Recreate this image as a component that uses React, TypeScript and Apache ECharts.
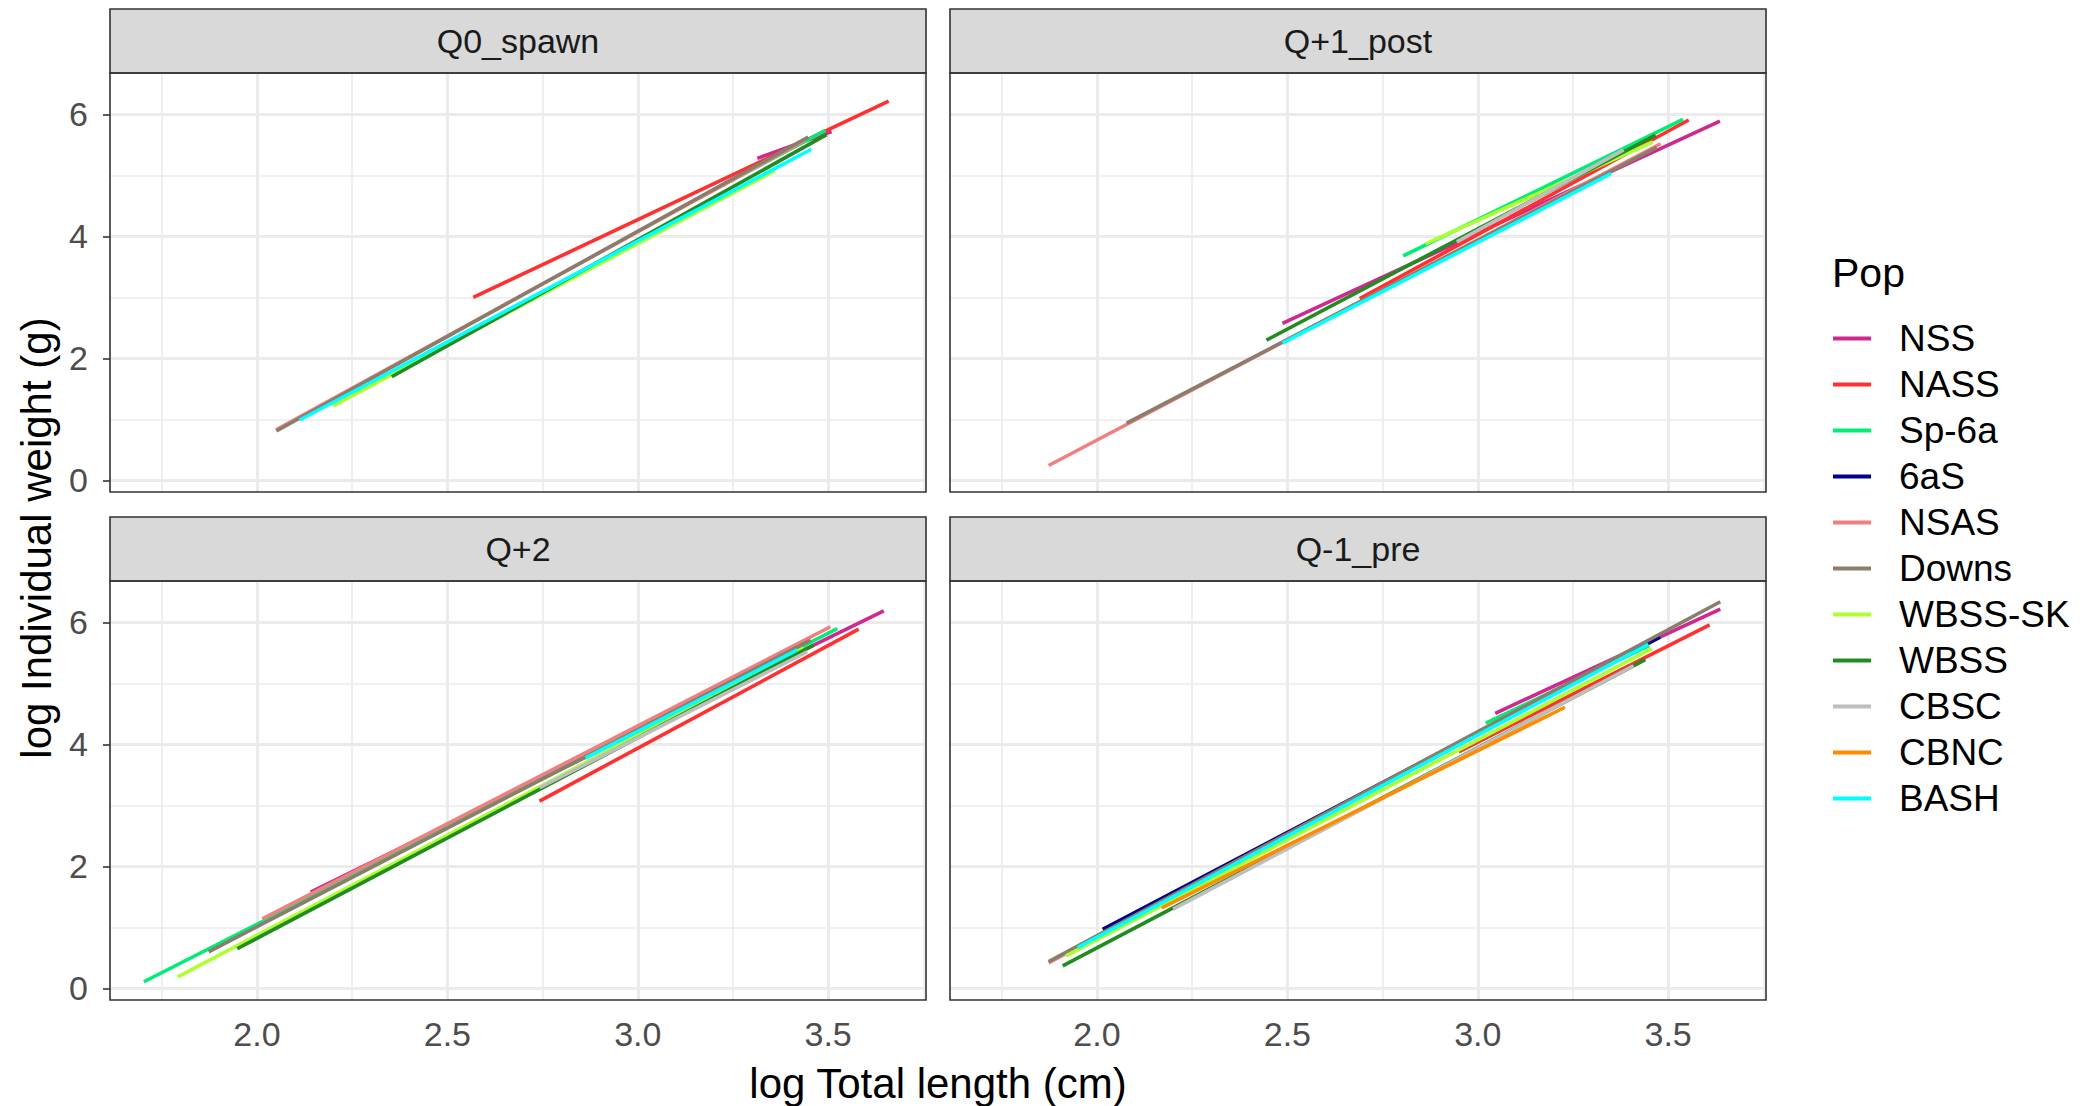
import React, { useEffect, useRef } from "react";
import * as echarts from "echarts";

const FONT = '"Liberation Sans", Arial, Helvetica, sans-serif';

// Populations (legend order) and their colours
const pops = ["NSS", "NASS", "Sp-6a", "6aS", "NSAS", "Downs", "WBSS-SK", "WBSS", "CBSC", "CBNC", "BASH"];
const popColors = ["#CD2990", "#FF3030", "#00EE76", "#00008B", "#F08080", "#8B7D6B", "#ADFF2F", "#228B22", "#BEBEBE", "#FF8C00", "#00FFFF"];

// Facet names
const facetNames = ["Q0_spawn", "Q+1_post", "Q+2", "Q-1_pre"];

// Fitted line segments per facet: [pop, x0, y0, x1, y1] (log length, log weight)
type Seg = [string, number, number, number, number];
const q0Spawn: Seg[] = [
  ["NSS", 3.314, 5.28, 3.509, 5.72],
  ["NASS", 2.568, 3.0, 3.659, 6.22],
  ["Sp-6a", 3.1, 4.43, 3.493, 5.74],
  ["NSAS", 2.05, 0.83, 3.44, 5.58],
  ["Downs", 2.051, 0.81, 3.448, 5.63],
  ["WBSS-SK", 2.2, 1.22, 3.36, 5.08],
  ["WBSS", 2.354, 1.7, 3.496, 5.67],
  ["BASH", 2.112, 0.99, 3.456, 5.43],
];
const q1Post: Seg[] = [
  ["NSS", 2.487, 2.575, 3.636, 5.89],
  ["NASS", 2.69, 2.98, 3.554, 5.91],
  ["Sp-6a", 2.804, 3.68, 3.539, 5.92],
  ["NSAS", 1.873, 0.245, 3.48, 5.52],
  ["Downs", 2.078, 0.94, 3.47, 5.46],
  ["WBSS-SK", 2.863, 3.88, 3.46, 5.55],
  ["WBSS", 2.445, 2.3, 3.467, 5.66],
  ["CBSC", 2.945, 3.91, 3.383, 5.42],
  ["BASH", 2.487, 2.25, 3.35, 5.03],
];
const q2: Seg[] = [
  ["NSS", 2.141, 1.58, 3.646, 6.19],
  ["NASS", 2.742, 3.07, 3.58, 5.89],
  ["Sp-6a", 1.703, 0.109, 3.524, 5.9],
  ["NSAS", 2.014, 1.14, 3.506, 5.93],
  ["Downs", 1.873, 0.6, 3.454, 5.71],
  ["WBSS-SK", 1.792, 0.19, 3.436, 5.58],
  ["WBSS", 1.948, 0.65, 3.462, 5.63],
  ["CBSC", 2.742, 3.29, 3.445, 5.52],
  ["BASH", 2.863, 3.78, 3.419, 5.55],
];
const qm1Pre: Seg[] = [
  ["NSS", 3.046, 4.51, 3.637, 6.22],
  ["NASS", 2.95, 3.88, 3.609, 5.96],
  ["Sp-6a", 3.021, 4.35, 3.45, 5.62],
  ["6aS", 2.015, 0.97, 3.479, 5.76],
  ["NSAS", 1.873, 0.42, 3.4, 5.52],
  ["Downs", 1.873, 0.44, 3.637, 6.34],
  ["WBSS-SK", 1.918, 0.53, 3.457, 5.57],
  ["WBSS", 1.91, 0.37, 3.44, 5.39],
  ["CBSC", 2.2, 1.3, 3.409, 5.29],
  ["CBNC", 2.17, 1.32, 3.229, 4.61],
  ["BASH", 1.949, 0.67, 3.448, 5.64],
];
const facetSegments = [q0Spawn, q1Post, q2, qm1Pre];

// Axis ranges and breaks
const xRange = [1.614, 3.757];
const yRange = [-0.19, 6.68];
const xBreaks = [2.0, 2.5, 3.0, 3.5];
const xMinorBreaks = [1.75, 2.25, 2.75, 3.25, 3.75];
const yBreaks = [0, 2, 4, 6];
const yMinorBreaks = [1, 3, 5];

// Layout
const PW = 816;
const PH = 419;
const STRIP_H = 64;
const panelPos = [
  { left: 110, top: 73 },
  { left: 950, top: 73 },
  { left: 110, top: 581 },
  { left: 950, top: 581 },
];

function buildOption() {
  const grids = panelPos.map((p) => ({
    left: p.left,
    top: p.top,
    width: PW,
    height: PH,
    show: true,
    backgroundColor: "#FFFFFF",
    borderWidth: 0,
    containLabel: false,
    outerBoundsMode: "none",
  }));

  const xAxes = panelPos.map((_, i) => {
    const bottom = i >= 2;
    return {
      type: "value",
      gridIndex: i,
      min: xRange[0],
      max: xRange[1],
      splitLine: { show: false },
      axisLine: { show: false },
      axisTick: {
        show: bottom,
        customValues: xBreaks,
        length: 7,
        lineStyle: { color: "#333333", width: 1.6 },
      },
      axisLabel: {
        show: bottom,
        customValues: xBreaks,
        formatter: (v: number) => v.toFixed(1),
        fontSize: 34,
        color: "#4D4D4D",
        fontFamily: FONT,
        margin: 17,
      },
    };
  });

  const yAxes = panelPos.map((_, i) => {
    const leftSide = i % 2 === 0;
    return {
      type: "value",
      gridIndex: i,
      min: yRange[0],
      max: yRange[1],
      splitLine: { show: false },
      axisLine: { show: false },
      axisTick: {
        show: leftSide,
        customValues: yBreaks,
        length: 7,
        lineStyle: { color: "#333333", width: 1.6 },
      },
      axisLabel: {
        show: leftSide,
        customValues: yBreaks,
        formatter: (v: number) => String(v),
        fontSize: 34,
        color: "#4D4D4D",
        fontFamily: FONT,
        margin: 22,
      },
    };
  });

  const series: any[] = [];
  panelPos.forEach((_, i) => {
    const gridData: any[] = [];
    xMinorBreaks.forEach((v) => gridData.push({ xAxis: v, lineStyle: { width: 1.6 } }));
    yMinorBreaks.forEach((v) => gridData.push({ yAxis: v, lineStyle: { width: 1.6 } }));
    xBreaks.forEach((v) => gridData.push({ xAxis: v, lineStyle: { width: 3 } }));
    yBreaks.forEach((v) => gridData.push({ yAxis: v, lineStyle: { width: 3 } }));
    series.push({
      type: "line",
      name: "__grid" + i,
      xAxisIndex: i,
      yAxisIndex: i,
      data: [],
      silent: true,
      z: 1,
      markLine: {
        silent: true,
        z: 1,
        symbol: ["none", "none"],
        label: { show: false },
        emphasis: { disabled: true },
        lineStyle: { color: "#EBEBEB", type: "solid" },
        data: gridData,
      },
    });
  });

  panelPos.forEach((_, i) => {
    const segs = facetSegments[i];
    pops.forEach((pop, k) => {
      const s = segs.find((d) => d[0] === pop);
      if (!s) return;
      const color = popColors[k];
      series.push({
        type: "line",
        name: pop,
        xAxisIndex: i,
        yAxisIndex: i,
        data: [
          [s[1], s[2]],
          [s[3], s[4]],
        ],
        symbol: "none",
        showSymbol: false,
        silent: true,
        z: 3,
        itemStyle: { color },
        lineStyle: { color, width: 3.6, cap: "butt" },
        emphasis: { disabled: true },
      });
    });
  });

  const graphics: any[] = [];
  panelPos.forEach((p, i) => {
    graphics.push({
      type: "rect",
      silent: true,
      z: 50,
      shape: { x: p.left, y: p.top - STRIP_H, width: PW, height: STRIP_H },
      style: { fill: "#D9D9D9", stroke: "#333333", lineWidth: 1.6 },
    });
    graphics.push({
      type: "text",
      silent: true,
      z: 51,
      x: p.left + PW / 2,
      y: p.top - STRIP_H / 2,
      style: {
        text: facetNames[i],
        fontSize: 34,
        fontFamily: FONT,
        fill: "#1A1A1A",
        align: "center",
        verticalAlign: "middle",
      },
    });
    graphics.push({
      type: "rect",
      silent: true,
      z: 50,
      shape: { x: p.left, y: p.top, width: PW, height: PH },
      style: { fill: "none", stroke: "#333333", lineWidth: 1.6 },
    });
  });
  graphics.push({
    type: "text",
    silent: true,
    x: 938,
    y: 1083,
    style: {
      text: "log Total length (cm)",
      fontSize: 42,
      fontFamily: FONT,
      fill: "#000000",
      align: "center",
      verticalAlign: "middle",
    },
  });
  graphics.push({
    type: "text",
    silent: true,
    x: 36,
    y: 538,
    rotation: Math.PI / 2,
    style: {
      text: "log Individual weight (g)",
      fontSize: 42,
      fontFamily: FONT,
      fill: "#000000",
      align: "center",
      verticalAlign: "middle",
    },
  });

  return {
    animation: false,
    backgroundColor: "#FFFFFF",
    title: {
      text: "Pop",
      left: 1832,
      top: 252,
      padding: 0,
      textStyle: { fontSize: 41, fontWeight: "normal", color: "#000000", fontFamily: FONT },
    },
    legend: {
      orient: "vertical",
      left: 1833,
      top: 320,
      padding: 0,
      itemWidth: 38,
      itemHeight: 4,
      itemGap: 9,
      icon: "rect",
      selectedMode: false,
      itemStyle: { borderWidth: 0 },
      data: pops,
      textStyle: {
        fontSize: 37,
        lineHeight: 36,
        color: "#000000",
        fontFamily: FONT,
        padding: [0, 0, 0, 23],
      },
    },
    grid: grids,
    xAxis: xAxes,
    yAxis: yAxes,
    series,
    graphic: graphics,
  };
}

export default function App() {
  const ref = useRef<HTMLDivElement>(null);
  useEffect(() => {
    if (!ref.current) return;
    const chart = echarts.init(ref.current, null, { renderer: "svg" });
    chart.setOption(buildOption() as any);
    return () => chart.dispose();
  }, []);
  return (
    <div
      ref={ref}
      style={{ position: "absolute", left: 0, top: 0, width: 2098, height: 1106, background: "#FFFFFF" }}
    />
  );
}
